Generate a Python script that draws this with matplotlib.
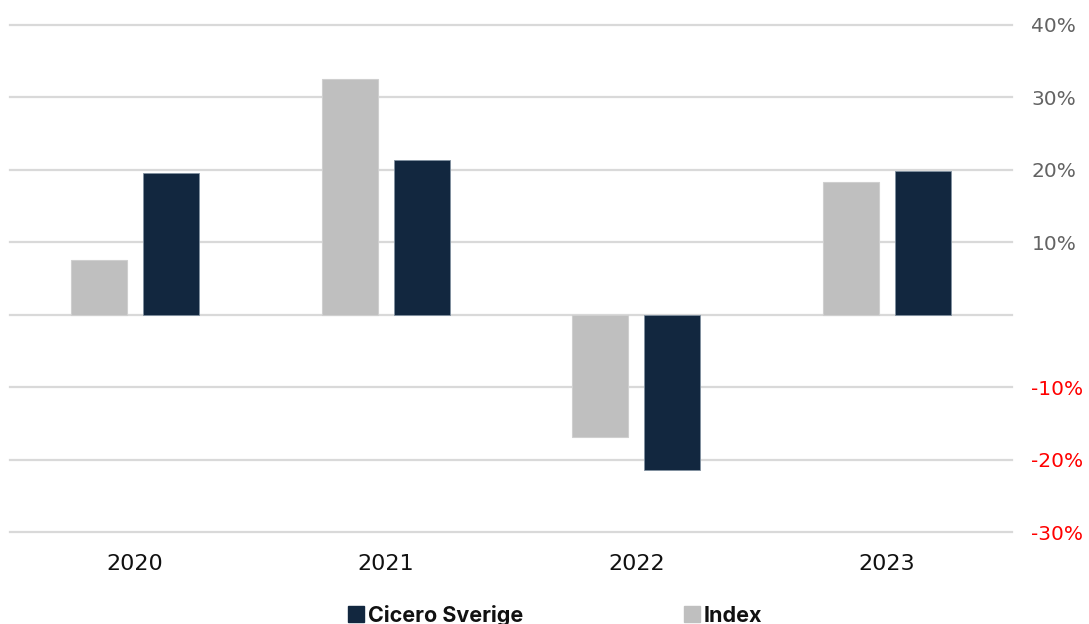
import matplotlib
matplotlib.use("Agg")
import matplotlib.pyplot as plt
from matplotlib.patches import Rectangle
import numpy as np

years = ["2020", "2021", "2022", "2023"]
index_vals = [7.5, 32.6, -16.9, 18.3]
cicero_vals = [19.5, 21.3, -21.4, 19.8]
yticks = [-30, -20, -10, 0, 10, 20, 30, 40]

W, H = 1089, 624
fig = plt.figure(figsize=(W / 100, H / 100), dpi=100)
ax = fig.add_axes([10 / W, (H - 532) / H, (1012 - 10) / W, (532 - 25) / H])

x = np.arange(len(years))
bw = 0.223
off = 0.144
navy = "#12273f"
grey = "#bfbfbf"
ax.bar(x - off, index_vals, bw, color=grey, edgecolor="#cfcfcf", linewidth=0.8, zorder=3)
ax.bar(x + off, cicero_vals, bw, color=navy, edgecolor="#8090a0", linewidth=0.6, zorder=3)

ax.set_xlim(-0.5, 3.5)
ax.set_ylim(-30, 40)
ax.set_yticks(yticks)
for v in yticks:
    ax.axhline(v, color="#d9d9d9", linewidth=1.6, zorder=0, clip_on=False)
for s in ax.spines.values():
    s.set_visible(False)
ax.yaxis.tick_right()
ax.tick_params(axis="y", length=0, pad=14)
ax.tick_params(axis="x", length=0, pad=16)
labels = ["" if v == 0 else f"{v}%" for v in yticks]
ax.set_yticklabels(labels, fontsize=14.5, family="DejaVu Sans")
for lbl, v in zip(ax.get_yticklabels(), yticks):
    lbl.set_color("#ff0000" if v < 0 else "#636363")
ax.set_xticks(x)
ax.set_xticklabels(years, fontsize=16, color="#111111")

# legend
def square(x0, color):
    fig.patches.append(Rectangle((x0 / W, 1 - 622 / H), 16 / W, 16 / H,
                                 transform=fig.transFigure, color=color))

square(348, navy)
fig.text(368 / W, 1 - 622 / H, "Cicero Sverige", color="#111111", fontsize=15.5,
         fontweight="bold", family="Inter", va="baseline", ha="left")
square(684, grey)
fig.text(704 / W, 1 - 622 / H, "Index", color="#111111", fontsize=15.5,
         fontweight="bold", family="Inter", va="baseline", ha="left")

fig.savefig("out.png", dpi=100, facecolor="white")
